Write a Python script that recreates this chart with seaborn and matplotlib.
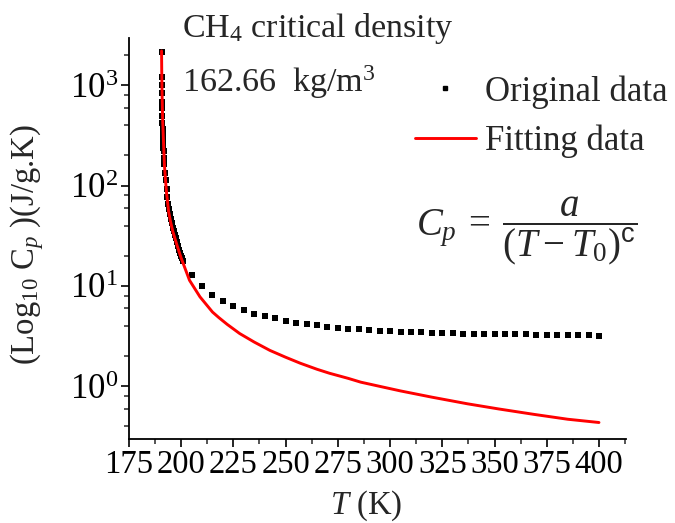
import numpy as np
import pandas as pd
import matplotlib
matplotlib.use('Agg')
import matplotlib.pyplot as plt
import seaborn as sns
from matplotlib.ticker import LogLocator, MultipleLocator, NullFormatter
from matplotlib.lines import Line2D

# original data, dense part close to the critical point
near_T = [190.6, 190.7, 190.75, 190.8, 190.85, 190.9, 190.95, 191.0, 191.1, 191.2,
          191.3, 191.4, 191.5, 191.6, 191.8, 192.0, 192.3, 192.6, 193.0, 193.4,
          193.8, 194.2, 194.6, 195.0, 195.5, 196.0, 196.5, 197.0, 197.5, 198.0,
          198.5, 199.0, 199.5, 200.0, 200.5, 201.0]
near_cp = [2140, 1210, 1000, 830, 680, 590, 500, 420, 370, 330,
           295, 265, 240, 220, 190, 165, 135, 113, 92, 77,
           66, 58, 52, 47, 42, 38, 35, 32, 30, 27.5,
           25, 23, 21.5, 20, 18.8, 17.8]

# original data, 5 K steps
far_T = [205, 210, 215, 220, 225, 230, 235, 240, 245, 250,
         255, 260, 265, 270, 275, 280, 285, 290, 295, 300,
         305, 310, 315, 320, 325, 330, 335, 340, 345, 350,
         355, 360, 365, 370, 375, 380, 385, 390, 395, 400]
far_cp = [13.0, 10.0, 8.2, 7.1, 6.3, 5.7, 5.3, 5.0, 4.8, 4.5,
          4.3, 4.2, 4.1, 3.9, 3.83, 3.74, 3.69, 3.63, 3.58, 3.55,
          3.48, 3.46, 3.44, 3.42, 3.40, 3.38, 3.36, 3.35, 3.33, 3.32,
          3.31, 3.30, 3.29, 3.28, 3.27, 3.26, 3.25, 3.24, 3.23, 3.20]

# fitted curve
fit_T = [190.62, 190.7, 190.8, 190.9, 191.0, 191.2, 191.5, 192.0, 192.5, 193.0,
         194.0, 195.0, 196.0, 198.0, 200.0, 204.0, 209.0, 215.0, 218.0, 222.0,
         228.0, 235.0, 242.5, 250.0, 257.0, 265.0, 271.0, 280.0, 286.0, 295.0,
         305.0, 320.0, 337.0, 352.0, 369.0, 385.0, 400.0]
fit_cp = [2200, 1400, 1000, 760, 600, 420, 290, 160, 115, 85,
          55, 43, 35, 25.5, 19, 11.4, 7.8, 5.5, 4.85, 4.15,
          3.36, 2.76, 2.28, 1.95, 1.70, 1.48, 1.35, 1.20, 1.10, 1.0,
          0.90, 0.78, 0.67, 0.595, 0.525, 0.47, 0.436]

orig = pd.DataFrame({'T': near_T + far_T, 'Cp': near_cp + far_cp})
fit = pd.DataFrame({'T': fit_T, 'Cp': fit_cp})

sns.set_style('ticks')
plt.rcParams['font.family'] = ['Liberation Serif', 'DejaVu Serif']
plt.rcParams['mathtext.fontset'] = 'custom'
plt.rcParams['mathtext.rm'] = 'Liberation Serif'
plt.rcParams['mathtext.it'] = 'Liberation Serif:italic'
plt.rcParams['mathtext.sf'] = 'Liberation Sans'

fig = plt.figure(figsize=(6.75, 5.23), dpi=100)
ax = fig.add_axes([0.191, 0.161, 0.736, 0.766])

sns.scatterplot(data=orig, x='T', y='Cp', ax=ax, marker='s', s=14,
                color='black', linewidth=0, zorder=2)
sns.lineplot(data=fit, x='T', y='Cp', ax=ax, color='#ff0000', lw=2.1,
             sort=False, zorder=3)

ax.set_yscale('log')
ax.set_xlim(175, 412.8)
ax.set_ylim(0.30, 2950)
ax.xaxis.set_major_locator(MultipleLocator(25))
ax.xaxis.set_minor_locator(MultipleLocator(12.5))
ax.yaxis.set_major_locator(LogLocator(base=10, numticks=10))
ax.yaxis.set_minor_locator(LogLocator(base=10, subs=[2, 4, 6, 8], numticks=10))
ax.yaxis.set_minor_formatter(NullFormatter())
sns.despine(ax=ax)
for s in ['left', 'bottom']:
    ax.spines[s].set_linewidth(1.3)
    ax.spines[s].set_color('black')
ax.tick_params(which='major', length=6, width=1.2, colors='black')
ax.tick_params(which='minor', length=3.5, width=1.1)
ax.tick_params(axis='x', labelsize=23.5, pad=2)
ax.tick_params(axis='y', labelsize=25, pad=2)

ax.set_xlabel(r'$T$ (K)', fontsize=23.5)
ax.set_ylabel(r'(Log$_{10}$ C$_{p}$ )(J/g.K)', fontsize=23.5)
ax.xaxis.set_label_coords(0.477, -0.125)
ax.yaxis.set_label_coords(-0.167, 0.484)

ax.text(0.107, 1.0025, r'CH$_4$ critical density', transform=ax.transAxes,
        fontsize=24.5, va='baseline', ha='left')
ax.text(0.107, 0.865, r'162.66  kg/m$^3$', transform=ax.transAxes,
        fontsize=24.5, va='baseline', ha='left')
ax.text(0.80, 0.52, r'$C_p\:=\:\dfrac{a}{(T\:-\:T_0)^{\mathsf{c}}}$', transform=ax.transAxes,
        fontsize=28, va='center', ha='center')

handles = [Line2D([0], [0], marker='s', color='black', ls='none', markersize=3.5),
           Line2D([0], [0], color='#ff0000', lw=2.1)]
ax.legend(handles, ['Original data', 'Fitting data'], loc='upper left',
          bbox_to_anchor=(0.575, 0.908), frameon=False, fontsize=25,
          handlelength=1.76, handletextpad=0.26, borderpad=0, borderaxespad=0,
          labelspacing=0.47)

fig.savefig('out.png', dpi=100)
